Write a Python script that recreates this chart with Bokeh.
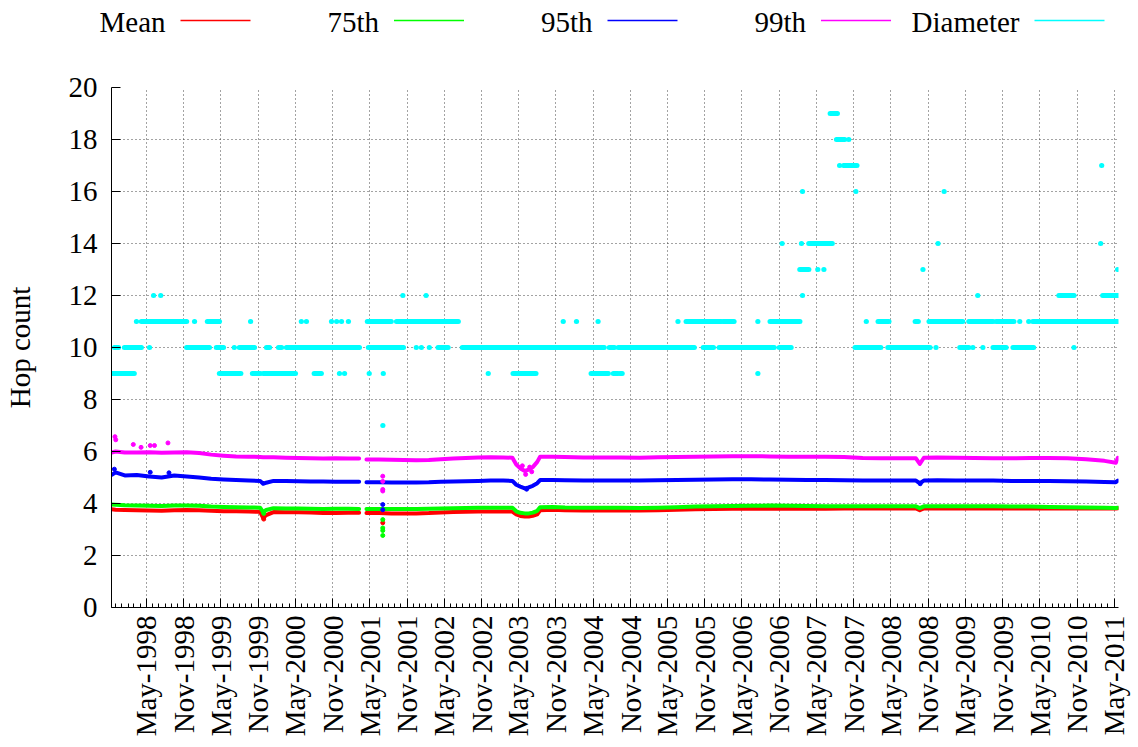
import numpy as np
import pandas as pd
from bokeh.plotting import figure
from bokeh.models import Range1d, FixedTicker, ColumnDataSource
from bokeh.layouts import column
from bokeh.embed import file_html
from bokeh.resources import INLINE
from bokeh.core.properties import value

FONT = "Liberation Serif"

# ---------------------------------------------------------------------------
# Hop-count statistics of the daily topology snapshots
# (NaN marks the outage in spring 2001)
# ---------------------------------------------------------------------------
dates = [
    "1997-11-12", "1997-12-01", "1998-01-15", "1998-03-15", "1998-05-15",
    "1998-07-15", "1998-09-15", "1998-11-15", "1999-01-15", "1999-03-15",
    "1999-05-15", "1999-07-15", "1999-09-15", "1999-11-10", "1999-11-25",
    "1999-12-10", "2000-01-15", "2000-03-15", "2000-05-15", "2000-07-15",
    "2000-09-15", "2000-11-15", "2001-01-15", "2001-03-10", "2001-03-25",
    "2001-04-15", "2001-06-15", "2001-08-15", "2001-10-15", "2001-12-15",
    "2002-02-15", "2002-04-15", "2002-06-15", "2002-08-15", "2002-10-15",
    "2002-12-15", "2003-02-15", "2003-04-01", "2003-04-20", "2003-05-10",
    "2003-06-01", "2003-06-20", "2003-07-10", "2003-08-01", "2003-08-15",
    "2003-10-15", "2003-12-15", "2004-03-15", "2004-06-15", "2004-09-15",
    "2004-12-15", "2005-03-15", "2005-06-15", "2005-09-15", "2005-12-15",
    "2006-03-15", "2006-06-15", "2006-09-15", "2006-12-15", "2007-03-15",
    "2007-06-15", "2007-09-15", "2007-12-15", "2008-03-15", "2008-06-15",
    "2008-09-01", "2008-09-20", "2008-10-10", "2008-12-15", "2009-03-15",
    "2009-06-15", "2009-09-15", "2009-12-15", "2010-03-15", "2010-06-15",
    "2010-09-15", "2010-12-15", "2011-03-15", "2011-05-10", "2011-05-20",
]
nan = float("nan")
mean_hops = [
    3.78, 3.76, 3.75, 3.74, 3.73, 3.72, 3.74, 3.75, 3.74, 3.72,
    3.70, 3.70, 3.69, 3.68, 3.45, 3.55, 3.67, 3.66, 3.66, 3.65,
    3.63, 3.63, 3.64, 3.64, nan, 3.63, 3.63, 3.62, 3.62, 3.62,
    3.63, 3.65, 3.67, 3.68, 3.69, 3.69, 3.69, 3.69, 3.58, 3.52,
    3.50, 3.50, 3.53, 3.58, 3.74, 3.76, 3.74, 3.73, 3.73, 3.73,
    3.73, 3.74, 3.76, 3.78, 3.79, 3.80, 3.80, 3.80, 3.80, 3.80,
    3.80, 3.81, 3.81, 3.81, 3.81, 3.81, 3.74, 3.81, 3.81, 3.81,
    3.81, 3.81, 3.81, 3.81, 3.81, 3.81, 3.81, 3.81, 3.81, 3.82,
]
p75_hops = [
    3.96, 3.95, 3.93, 3.92, 3.91, 3.90, 3.92, 3.92, 3.91, 3.88,
    3.87, 3.86, 3.85, 3.84, 3.67, 3.75, 3.82, 3.81, 3.81, 3.80,
    3.79, 3.80, 3.80, 3.79, nan, 3.79, 3.79, 3.79, 3.79, 3.79,
    3.80, 3.81, 3.82, 3.83, 3.84, 3.84, 3.84, 3.84, 3.70, 3.64,
    3.62, 3.62, 3.65, 3.72, 3.86, 3.87, 3.85, 3.84, 3.84, 3.84,
    3.83, 3.84, 3.86, 3.88, 3.89, 3.90, 3.91, 3.92, 3.91, 3.90,
    3.89, 3.89, 3.89, 3.89, 3.89, 3.89, 3.82, 3.89, 3.89, 3.89,
    3.89, 3.89, 3.88, 3.88, 3.87, 3.86, 3.85, 3.84, 3.83, 3.84,
]
p95_hops = [
    5.10, 5.20, 5.08, 5.10, 5.04, 5.00, 5.08, 5.04, 5.00, 4.95,
    4.92, 4.90, 4.88, 4.87, 4.76, 4.80, 4.87, 4.87, 4.86, 4.85,
    4.85, 4.84, 4.84, 4.84, nan, 4.82, 4.82, 4.81, 4.81, 4.81,
    4.82, 4.84, 4.85, 4.86, 4.87, 4.88, 4.88, 4.87, 4.72, 4.65,
    4.58, 4.62, 4.68, 4.78, 4.90, 4.90, 4.89, 4.88, 4.88, 4.88,
    4.88, 4.89, 4.90, 4.91, 4.92, 4.93, 4.93, 4.92, 4.91, 4.90,
    4.90, 4.89, 4.88, 4.88, 4.88, 4.88, 4.78, 4.88, 4.89, 4.88,
    4.88, 4.88, 4.87, 4.87, 4.87, 4.86, 4.85, 4.83, 4.82, 4.88,
]
p99_hops = [
    5.96, 6.00, 5.96, 5.96, 5.97, 5.95, 5.96, 5.97, 5.94, 5.88,
    5.84, 5.81, 5.80, 5.79, 5.78, 5.78, 5.78, 5.76, 5.75, 5.74,
    5.73, 5.74, 5.73, 5.73, nan, 5.69, 5.69, 5.68, 5.67, 5.66,
    5.67, 5.70, 5.73, 5.75, 5.77, 5.78, 5.77, 5.76, 5.50, 5.35,
    5.25, 5.30, 5.40, 5.60, 5.80, 5.80, 5.79, 5.77, 5.77, 5.77,
    5.76, 5.78, 5.79, 5.80, 5.81, 5.82, 5.82, 5.81, 5.80, 5.80,
    5.80, 5.79, 5.75, 5.74, 5.74, 5.74, 5.52, 5.76, 5.77, 5.76,
    5.75, 5.74, 5.74, 5.75, 5.75, 5.74, 5.70, 5.64, 5.57, 5.76,
]

# isolated days that stand off the trend
mean_odd_dates = ["1999-11-28", "2001-07-04"]
mean_odd_vals = [3.40, 3.26]
p75_odd_dates = ["1999-11-28", "2001-07-04", "2001-07-04", "2001-07-04", "2001-07-04"]
p75_odd_vals = [3.62, 3.38, 3.06, 2.96, 2.77]
p95_odd_dates = ["1997-11-25", "1998-05-20", "1998-08-20", "2001-07-04", "2001-07-04",
                 "2003-06-10", "2008-09-22"]
p95_odd_vals = [5.32, 5.20, 5.18, 3.96, 3.76, 4.55, 4.76]
p99_odd_dates = ["1997-11-28", "1997-12-02", "1998-02-26", "1998-04-05", "1998-05-20",
                 "1998-06-10", "1998-08-15", "2001-07-04", "2001-07-04", "2001-07-04",
                 "2001-07-04", "2003-05-20", "2003-06-05", "2003-06-25", "2003-07-05"]
p99_odd_vals = [6.57, 6.45, 6.27, 6.16, 6.23,
                6.23, 6.33, 5.05, 4.85, 4.54,
                4.48, 5.45, 5.12, 5.40, 5.22]

# graph diameter: runs of consecutive days at the same value
diam_start = [
    # 9
    "1997-11-11", "1999-04-24", "1999-10-03", "1999-11-25", "2000-08-01",
    "2000-12-03", "2000-12-28", "2001-04-28", "2001-07-06", "2002-12-03",
    "2003-04-04", "2004-04-21", "2004-08-08", "2004-09-10", "2006-07-18",
    # 10
    "1997-11-25", "1998-01-13", "1998-05-16", "1998-11-14", "1999-04-09",
    "1999-07-06", "1999-07-31", "1999-12-11", "2000-02-08", "2000-03-18",
    "2001-04-24", "2001-12-15", "2002-01-09", "2002-02-17", "2002-04-01",
    "2002-07-29", "2004-07-19", "2004-09-01", "2005-10-23", "2006-01-09",
    "2006-10-31", "2007-11-07", "2008-04-16", "2008-12-08", "2009-04-04",
    "2009-06-07", "2009-07-26", "2009-09-14", "2009-12-21", "2010-10-16",
    # 11
    "1998-03-13", "1998-04-06", "1998-12-23", "1999-02-24", "1999-09-24",
    "2000-05-30", "2000-06-24", "2000-10-25", "2000-11-19", "2000-12-13",
    "2001-01-16", "2001-04-19", "2001-09-09", "2003-12-06", "2004-02-09",
    "2004-05-25", "2005-06-21", "2005-07-31", "2006-01-29", "2006-07-18",
    "2006-09-16", "2008-01-01", "2008-02-28", "2008-08-28", "2008-11-04",
    "2009-05-18", "2009-09-29", "2010-01-23", "2010-03-08", "2010-03-28",
    # 12
    "1998-06-05", "1998-07-10", "2001-10-10", "2002-02-01", "2007-02-22",
    "2009-07-01", "2010-08-03", "2011-03-06",
    # 13
    "2007-02-09", "2007-05-08", "2007-06-07", "2008-10-05", "2011-05-18",
    # 14
    "2006-11-14", "2007-02-17", "2007-03-25", "2008-12-18", "2011-02-24",
    # 16
    "2007-02-22", "2007-11-11", "2009-01-17",
    # 17
    "2007-08-23", "2007-09-12", "2011-03-01",
    # 18
    "2007-08-08", "2007-10-07",
    # 19
    "2007-07-08",
    # 7
    "2001-07-04",
]
diam_end = [
    # 9
    "1998-03-02", "1999-08-07", "1999-11-10", "2000-05-01", "2000-09-05",
    "2000-12-03", "2000-12-28", "2001-04-28", "2001-07-06", "2002-12-03",
    "2003-07-25", "2004-07-14", "2004-08-30", "2004-09-20", "2006-07-18",
    # 10
    "1997-12-15", "1998-04-06", "1998-05-16", "1999-03-06", "1999-05-14",
    "1999-07-06", "1999-10-13", "1999-12-26", "2000-02-23", "2001-03-11",
    "2001-10-13", "2001-12-15", "2002-01-09", "2002-02-17", "2002-05-20",
    "2004-06-24", "2004-08-13", "2005-09-09", "2005-12-12", "2006-10-06",
    "2006-12-28", "2008-03-12", "2008-11-09", "2008-12-08", "2009-05-18",
    "2009-06-07", "2009-07-26", "2009-11-17", "2010-04-01", "2010-10-16",
    # 11
    "1998-03-13", "1998-11-14", "1998-12-23", "1999-04-24", "1999-09-24",
    "2000-05-30", "2000-06-24", "2000-10-25", "2000-11-19", "2000-12-13",
    "2001-01-16", "2001-08-14", "2002-07-09", "2003-12-06", "2004-02-09",
    "2004-05-25", "2005-06-21", "2006-01-19", "2006-03-23", "2006-07-18",
    "2007-02-09", "2008-01-01", "2008-04-21", "2008-09-12", "2009-04-18",
    "2009-09-14", "2009-12-25", "2010-01-23", "2010-03-08", "2011-05-18",
    # 12
    "1998-06-05", "1998-07-10", "2001-10-10", "2002-02-01", "2007-02-22",
    "2009-07-01", "2010-10-16", "2011-05-23",
    # 13
    "2007-03-25", "2007-05-08", "2007-06-07", "2008-10-05", "2011-05-18",
    # 14
    "2006-11-14", "2007-02-17", "2007-07-18", "2008-12-18", "2011-02-24",
    # 16
    "2007-02-22", "2007-11-11", "2009-01-17",
    # 17
    "2007-08-23", "2007-11-16", "2011-03-01",
    # 18
    "2007-09-17", "2007-10-07",
    # 19
    "2007-08-12",
    # 7
    "2001-07-04",
]
diam_level = (
    [9] * 15 + [10] * 30 + [11] * 30 + [12] * 8 + [13] * 5 + [14] * 5
    + [16] * 3 + [17] * 3 + [18] * 2 + [19] * 1 + [7] * 1
)

series_names = ["Mean", "75th", "95th", "99th", "Diameter"]
series_colors = ["#ff0000", "#00ff00", "#0000ff", "#ff00ff", "#00ffff"]

x_start, x_end = "1997-11-11", "2011-05-23"
y_ticks = list(range(0, 21, 2))

BORDER_L, BORDER_R = 110, 20
PAGE_W = 1138


def to_ms(seq):
    return pd.to_datetime(pd.Series(seq)).values.astype("datetime64[ms]").astype("int64").astype(float)


# ---------------------------------------------------------------------------
# legend strip (label first, then a line sample, as in gnuplot);
# its frame spans the whole width, x laid out in page pixels
# ---------------------------------------------------------------------------
leg = figure(width=PAGE_W, height=50,
             x_range=Range1d(0, PAGE_W), y_range=Range1d(50, 0),
             toolbar_location=None, output_backend="svg", min_border=0,
             x_axis_location=None, y_axis_location=None)
leg.frame_align = False
leg.grid.visible = False
leg.outline_line_color = None
slot = 213.5
sample_x0 = [180 + i * slot for i in range(len(series_names))]
leg.text(x=[sx - 15 for sx in sample_x0], y=[21] * 5, text=series_names,
         text_align="right", text_baseline="middle",
         text_font=value(FONT), text_font_size="29px", text_color="black")
leg.segment(x0=sample_x0, y0=[20] * 5, x1=[sx + 70 for sx in sample_x0], y1=[20] * 5,
            line_color=series_colors, line_width=1.5)

# ---------------------------------------------------------------------------
# main plot
# ---------------------------------------------------------------------------
p = figure(width=PAGE_W, height=697, toolbar_location=None, output_backend="svg",
           x_range=Range1d(to_ms([x_start])[0], to_ms([x_end])[0]),
           y_range=Range1d(0, 20),
           min_border_left=BORDER_L, min_border_right=BORDER_R, min_border_top=37,
           min_border_bottom=140)
p.frame_align = False
p.outline_line_color = None
p.background_fill_color = "white"
p.border_fill_color = "white"

# ticks at May / Nov, minor ticks every month
major, labels = [], {}
for yr in range(1998, 2012):
    for mo, name in ((5, "May"), (11, "Nov")):
        d = pd.Timestamp(year=yr, month=mo, day=1)
        if d <= pd.Timestamp(x_end):
            v = float(to_ms([d])[0])
            major.append(v)
            labels[v] = f"{name}-{yr}"
minor = [float(v) for v in to_ms(pd.date_range("1997-12-01", "2011-05-01", freq="MS"))]
p.xaxis.ticker = FixedTicker(ticks=major, minor_ticks=minor)
p.xaxis.major_label_overrides = labels
p.xaxis.major_label_orientation = np.pi / 2
p.yaxis.ticker = FixedTicker(ticks=y_ticks)
p.yaxis.axis_label = "Hop count"

for ax in (p.xaxis[0], p.yaxis[0]):
    ax.axis_line_color = "black"
    ax.axis_line_width = 1
    ax.major_tick_in = 9
    ax.major_tick_out = 0
    ax.major_tick_line_color = "black"
    ax.major_label_text_font = FONT
    ax.major_label_text_font_size = "29px"
    ax.major_label_text_color = "black"
    ax.axis_label_text_font = FONT
    ax.axis_label_text_font_size = "29px"
    ax.axis_label_text_font_style = "normal"
    ax.axis_label_text_color = "black"
p.xaxis.minor_tick_in = 4
p.xaxis.minor_tick_out = 0
p.xaxis.minor_tick_line_color = "black"
p.yaxis.minor_tick_line_color = None
p.xaxis.major_label_standoff = 8
p.yaxis.major_label_standoff = 14
p.yaxis.axis_label_standoff = 30

for g in (p.xgrid[0], p.ygrid[0]):
    g.grid_line_color = "#333333"
    g.grid_line_dash = "1 3"
    g.grid_line_width = 1
    g.grid_line_alpha = 0.9

# diameter runs
dsrc = ColumnDataSource(dict(x0=to_ms(diam_start), x1=to_ms(diam_end) + 86400000.0,
                             y=diam_level))
p.segment(x0="x0", y0="y", x1="x1", y1="y", source=dsrc,
          line_color=series_colors[4], line_width=5, line_cap="round")

# percentile / mean series
xs = to_ms(dates)
for vals, odd_d, odd_v, col in (
    (mean_hops, mean_odd_dates, mean_odd_vals, series_colors[0]),
    (p75_hops, p75_odd_dates, p75_odd_vals, series_colors[1]),
    (p95_hops, p95_odd_dates, p95_odd_vals, series_colors[2]),
    (p99_hops, p99_odd_dates, p99_odd_vals, series_colors[3]),
):
    p.line(xs, vals, line_color=col, line_width=4, line_join="round", line_cap="round")
    p.scatter(to_ms(odd_d), odd_v, size=4, marker="circle", fill_color=col, line_color=col)

layout = column(leg, p, spacing=0)
open("out.html", "w").write(file_html(layout, INLINE))
